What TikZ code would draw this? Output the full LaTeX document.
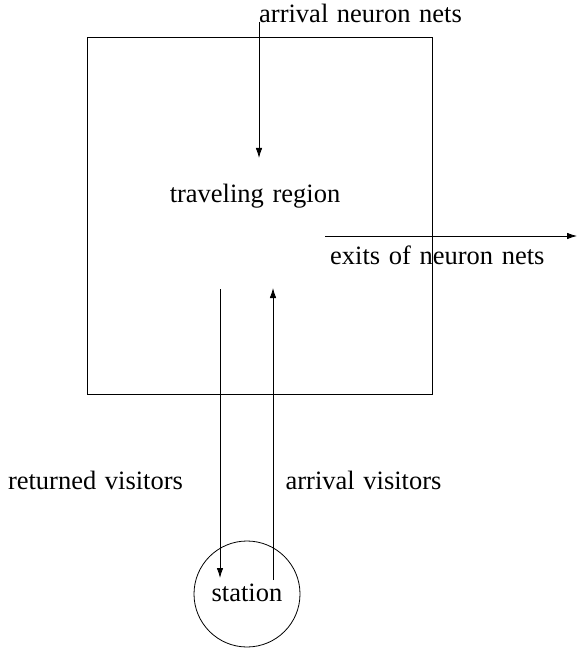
\documentclass[tikz,border=0pt]{standalone}
\usepackage{fontspec}
\setmainfont[WordSpace=1.3]{Liberation Serif}
\usetikzlibrary{arrows.meta}
\begin{document}
\begin{tikzpicture}[x=1pt,y=-1pt,
  every node/.style={font=\fontsize{26.5}{30}\selectfont, inner sep=0pt},
  conn/.style={line width=0.8pt},
  arr/.style={conn,-{Latex[length=10pt,width=6.5pt]}},
  lbl/.style={anchor=base}]
\useasboundingbox (0,0) rectangle (577,652);
\node[draw, line width=0.8pt, minimum width=345pt, minimum height=357pt] (box) at (259.5,215.5) {};
\node (trav) at (255,196) {traveling region};
\node[lbl, anchor=base west] (ann) at (259,23) {arrival neuron nets};
\node[lbl, anchor=base west] (exits) at (330,264) {exits of neuron nets};
\node[lbl] (ret) at (95.5,489) {returned visitors};
\node[lbl] (arrv) at (363.5,489) {arrival visitors};
\node[draw, circle, line width=0.8pt, minimum size=106pt] (st) at (247,594) {};
\node (stt) at (247,593) {station};
\coordinate (anTop) at (259,22);
\coordinate (anEnd) at (259,158);
\coordinate (exStart) at (325,236);
\coordinate (exEnd) at (577,236);
\coordinate (retTop) at (220,289);
\coordinate (retEnd) at (220,578);
\coordinate (arrBot) at (273,580);
\coordinate (arrTop) at (273,288);
\draw[arr] (anTop) -- (anEnd);
\draw[arr] (exStart) -- (exEnd);
\draw[arr] (retTop) -- (retEnd);
\draw[arr] (arrBot) -- (arrTop);
\end{tikzpicture}
\end{document}
